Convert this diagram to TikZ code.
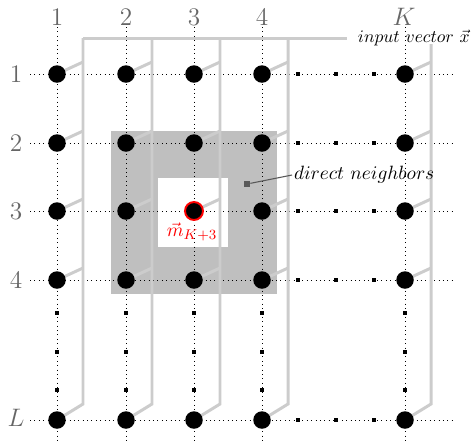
\documentclass[tikz,border=0pt]{standalone}
\usetikzlibrary{positioning}
\begin{document}
\begin{tikzpicture}[
    x=0.02cm, y=-0.02cm,
    neuron/.style={circle, fill=black, inner sep=0pt, minimum size=0.35cm},
    winner/.style={neuron, draw=red, line width=1.1pt, minimum size=0.36cm},
    gap/.style={rectangle, fill=black, inner sep=0pt, minimum size=2.8pt},
    gridline/.style={dotted, line width=0.5pt},
    bus/.style={draw=black!20, line width=1.7pt},
    idx/.style={text=black!60, font=\Large},
    note/.style={font=\fontsize{11}{13}\selectfont}
]
    \useasboundingbox (0,0) rectangle (472,441);

    % neighbourhood of the winner
    \fill[black!25] (111,131) rectangle (277,294);
    \fill[white] (158,178) rectangle (228,247);

    % dotted grid
    \foreach \c/\x in {1/57, 2/126, 3/194, 4/262, K/405} {
        \coordinate (vtop\c) at (\x,27);
        \coordinate (vbot\c) at (\x,441);
        \draw[gridline] (vtop\c) -- (vbot\c);
    }
    \foreach \r/\y in {1/74, 2/143, 3/211, 4/280, L/420} {
        \coordinate (hleft\r) at (30,\y);
        \coordinate (hright\r) at (452,\y);
        \draw[gridline] (hleft\r) -- (hright\r);
    }

    % input vector bus
    \coordinate (busL) at (83,38);
    \coordinate (busR) at (347,38);
    \draw[bus] (busL) -- (busR);
    \foreach \c/\x/\t in {1/57/38, 2/126/38, 3/194/38, 4/262/38, K/405/44} {
        \coordinate (top\c) at (\x+26,\t);
        \coordinate (bot\c) at (\x+26,404);
        \draw[bus] (top\c) -- (bot\c) -- (\x,420);
        \foreach \r/\y in {1/74, 2/143, 3/211, 4/280} {
            \coordinate (tap\c\r) at (\x+26,\y-12);
            \draw[bus] (\x,\y) -- (tap\c\r);
        }
    }

    % neurons
    \foreach \c/\x in {1/57, 2/126, 3/194, 4/262, K/405}
        \foreach \r/\y in {1/74, 2/143, 3/211, 4/280, L/420}
            \node[neuron] (n\c\r) at (\x,\y) {};
    \node[winner] (win) at (n33) {};

    % omitted neurons
    \foreach \r/\y in {1/74, 2/143, 3/211, 4/280, L/420}
        \foreach \x [count=\i] in {298, 336, 374}
            \node[gap] (hg\r\i) at (\x,\y) {};
    \foreach \c/\x in {1/57, 2/126, 3/194, 4/262, K/405}
        \foreach \y [count=\i] in {313, 352, 390}
            \node[gap] (vg\c\i) at (\x,\y) {};

    % indices
    \foreach \c/\x/\t in {1/57/1, 2/126/2, 3/194/3, 4/262/4, K/404/$K$}
        \node[idx] (col\c) at (\x,17) {\t};
    \foreach \r/\y/\t in {1/74/1, 2/143/2, 3/211/3, 4/280/4, L/418/$L$}
        \node[idx] (row\r) at (16,\y) {\t};

    % labels
    \node[font=\fontsize{10}{12}\selectfont, anchor=east, inner sep=0.5pt] (inlabel) at (471,38) {$input\ vector\ \vec{x}$};
    \node[note, red, inner sep=0pt] (mlabel) at (192,232) {$\vec{m}_{K+3}$};
    \node[note, anchor=west, inner sep=1pt] (nblabel) at (292,175) {$direct\ neighbors$};
    \node[rectangle, fill=black!65, inner sep=0pt, minimum size=3.4pt] (nbmark) at (247,184) {};
    \draw[black!65, line width=0.6pt] (nbmark) -- (nblabel.west);
\end{tikzpicture}
\end{document}
